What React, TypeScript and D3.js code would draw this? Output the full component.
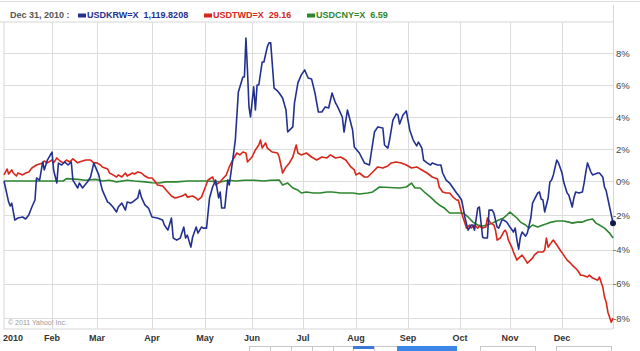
import * as d3 from "d3";
import React from "react";

// [day of year 2010, % change]
const krw: [number, number][] = [
  [0, 0], [3, -1.23], [4, -1.46], [5, -1.29], [7, -2.28], [9, -2.16], [12, -2.1], [14, -2.22], [16, -1.99], [18, -1.52],
  [20, -1.11], [21, 0.19], [23, 0.06], [25, 1.19], [26, 0.69], [28, 1.31], [31, 1.81], [32, 0.69], [34, -0.12], [35, 1.12],
  [37, 1.0], [39, 1.19], [41, 1.0], [43, 1.19], [44, 0.06], [47, -0.41], [48, -0.12], [50, -0.41], [53, -0.06], [55, 0.25],
  [57, 1.12], [58, 0.88], [60, 0.38], [61, -0.12], [62, -0.53], [65, -1.23], [66, -1.29], [68, -1.52], [70, -1.81], [71, -1.52],
  [73, -1.29], [75, -1.7], [76, -1.23], [78, -1.29], [79, -1.23], [82, -0.99], [83, -0.53], [84, -0.94], [86, -1.4], [88, -1.58],
  [90, -2.1], [93, -2.16], [96, -2.28], [97, -2.57], [99, -2.87], [101, -2.16], [102, -3.33], [104, -3.45], [106, -3.33], [108, -2.69],
  [109, -3.33], [110, -3.16], [112, -3.86], [113, -3.27], [115, -2.69], [116, -3.04], [118, -2.69], [119, -2.75], [121, -2.75], [123, -0.99],
  [125, -0.35], [127, 0.06], [129, -0.99], [130, -0.64], [131, -1.58], [133, -1.58], [135, 0.06], [136, -0.23], [138, 1.12], [140, 2.56],
  [142, 5.56], [145, 6.5], [146, 6.5], [147, 8.94], [148, 6.94], [149, 4.63], [150, 4.0], [152, 5.88], [153, 4.44], [154, 6.0],
  [155, 6.0], [157, 7.44], [158, 7.44], [160, 8.38], [161, 8.63], [162, 8.63], [164, 5.81], [166, 5.63], [167, 5.5], [169, 5.19],
  [171, 4.44], [172, 3.06], [175, 3.38], [176, 4.88], [178, 6.13], [180, 6.63], [182, 6.94], [184, 6.44], [186, 6.38], [188, 5.5],
  [190, 4.31], [192, 4.31], [194, 4.63], [196, 4.56], [198, 5.5], [200, 4.88], [201, 4.69], [204, 4.0], [205, 3.06], [207, 4.44],
  [210, 3.19], [211, 2.13], [214, 1.75], [217, 1.13], [220, 1.0], [222, 2.38], [223, 3.06], [225, 3.38], [228, 3.31], [229, 2.25],
  [231, 2.06], [232, 2.56], [234, 3.81], [236, 4.19], [237, 4.13], [238, 3.56], [240, 4.13], [241, 4.25], [242, 4.38], [244, 3.19],
  [246, 2.56], [248, 2.19], [249, 2.44], [251, 2.06], [252, 1.31], [254, 1.13], [256, 1.0], [257, 1.13], [260, 1.0], [262, 1.0],
  [263, 0.5], [265, 0.06], [267, -0.12], [269, -0.41], [271, -0.7], [272, -0.82], [274, -1.11], [275, -1.58], [276, -2.1], [278, -2.87],
  [280, -2.57], [281, -2.57], [282, -2.87], [284, -1.58], [285, -1.52], [287, -3.27], [288, -3.33], [290, -3.33], [291, -1.7], [293, -1.7],
  [294, -1.87], [296, -2.69], [297, -2.75], [299, -2.28], [300, -2.28], [302, -2.4], [304, -2.69], [306, -2.98], [307, -2.75], [308, -3.45],
  [309, -3.98], [310, -3.27], [311, -2.98], [313, -3.22], [314, -3.04], [316, -2.16], [317, -1.29], [320, -0.7], [321, -0.64], [322, -1.05],
  [323, -1.11], [324, -1.81], [326, -0.99], [327, -0.06], [328, 0.06], [329, 0.38], [331, 1.31], [332, 1.13], [334, 0.5], [335, -0.06],
  [337, -0.7], [338, -0.82], [340, -1.52], [341, -0.99], [342, -0.64], [344, -0.7], [346, -0.64], [347, -0.12], [348, 0.56], [349, 1.13],
  [351, 0.56], [352, 0.38], [355, 0.5], [356, 0.5], [358, 0.25], [359, -0.35], [360, -0.58], [362, -1.52], [364, -2.46],
];

const twd: [number, number][] = [
  [0, 0.38], [2, 0.75], [3, 0.44], [5, 0.69], [6, 0.5], [8, 0.31], [9, 0.5], [12, 0.38], [14, 0.5], [16, 0.56],
  [18, 0.81], [21, 1.0], [25, 1.13], [26, 1.25], [28, 1.13], [31, 1.31], [32, 1.13], [34, 1.44], [36, 1.25], [38, 1.13],
  [40, 1.31], [42, 1.19], [44, 1.38], [47, 1.13], [48, 1.19], [52, 1.31], [55, 1.31], [57, 1.13], [59, 1.13], [61, 1.0],
  [62, 0.88], [65, 0.75], [66, 0.5], [68, 0.38], [70, 0.25], [71, 0.38], [73, 0.25], [75, 0.5], [76, 0.31], [79, 0.5],
  [80, 0.44], [82, 0.56], [84, 0.5], [86, 0.31], [88, 0.19], [90, 0.19], [92, -0.06], [93, -0.23], [96, -0.29], [97, -0.41],
  [99, -0.64], [101, -0.88], [103, -0.99], [105, -0.94], [107, -0.88], [109, -0.76], [110, -0.94], [113, -0.88], [115, -0.99], [116, -1.11],
  [118, -0.94], [120, -0.41], [122, 0.06], [125, 0.25], [127, -0.23], [129, -0.12], [131, 0.06], [134, 0.38], [136, 0.88], [139, 1.44],
  [141, 1.75], [143, 1.63], [145, 1.81], [147, 1.75], [148, 1.19], [151, 1.5], [153, 1.94], [155, 2.25], [156, 2.56], [157, 2.06],
  [159, 2.38], [160, 2.06], [163, 1.81], [166, 1.75], [167, 1.5], [169, 0.5], [171, 0.88], [173, 1.13], [175, 1.5], [177, 2.25],
  [178, 1.75], [180, 1.63], [183, 1.75], [186, 1.5], [189, 1.31], [192, 1.5], [195, 1.44], [197, 1.63], [200, 1.44], [203, 1.5],
  [206, 1.31], [209, 0.88], [211, 0.69], [212, 0.38], [214, 0.5], [217, 0.25], [219, 0.25], [222, 0.56], [225, 0.88], [228, 0.81],
  [231, 0.94], [233, 1.13], [236, 1.19], [239, 1.13], [242, 1.0], [245, 0.81], [248, 0.88], [251, 0.69], [254, 0.5], [257, 0.25],
  [260, 0.13], [261, -0.35], [263, -0.64], [265, -0.7], [267, -0.7], [269, -0.94], [271, -1.11], [272, -1.11], [274, -1.87], [275, -2.16],
  [277, -2.75], [279, -2.57], [280, -2.75], [282, -2.57], [284, -2.75], [285, -2.63], [287, -2.75], [289, -2.69], [290, -2.16], [292, -2.46],
  [294, -2.57], [295, -2.87], [296, -3.45], [298, -3.33], [300, -2.98], [301, -2.87], [302, -3.04], [303, -3.45], [305, -3.86], [306, -4.15],
  [308, -4.62], [309, -4.5], [311, -4.33], [313, -4.62], [314, -4.8], [317, -4.5], [318, -4.33], [320, -4.15], [323, -4.15], [324, -4.04],
  [325, -3.33], [326, -3.86], [328, -3.57], [329, -3.45], [331, -3.74], [333, -4.04], [335, -4.33], [337, -4.62], [339, -4.8], [340, -4.91],
  [343, -5.2], [345, -5.5], [346, -5.5], [349, -5.61], [350, -5.5], [352, -5.67], [355, -5.79], [356, -5.61], [358, -6.2], [359, -6.78],
  [360, -7.08], [361, -7.66], [363, -8.25], [364, -8.01],
];

const cny: [number, number][] = [
  [0, 0], [30, 0], [38, 0], [40, 0.15], [44, 0.12], [47, 0.1], [52, 0.05], [58, 0.1], [62, 0], [66, 0.05],
  [70, -0.05], [76, 0.05], [80, 0], [86, -0.05], [90, -0.1], [94, -0.12], [98, -0.05], [104, -0.05], [110, 0], [116, 0],
  [122, 0], [130, -0.05], [136, 0.05], [140, 0], [146, 0.05], [152, 0.05], [158, 0], [162, 0.05], [167, 0.06], [169, -0.23],
  [172, -0.12], [175, -0.41], [178, -0.53], [180, -0.7], [183, -0.64], [187, -0.7], [191, -0.7], [195, -0.64], [198, -0.64], [203, -0.7],
  [207, -0.7], [210, -0.7], [214, -0.76], [219, -0.7], [222, -0.64], [226, -0.35], [238, -0.41], [242, -0.35], [245, -0.12], [247, -0.41],
  [250, -0.41], [253, -0.7], [256, -0.94], [259, -1.23], [261, -1.4], [264, -1.58], [267, -1.87], [271, -1.87], [275, -1.87], [278, -2.1],
  [281, -2.4], [284, -2.57], [287, -2.63], [290, -2.57], [293, -2.46], [297, -2.28], [300, -2.16], [302, -1.99], [304, -1.81], [306, -1.99],
  [308, -2.16], [310, -2.4], [313, -2.57], [315, -2.75], [317, -2.57], [320, -2.69], [323, -2.57], [326, -2.46], [328, -2.4], [331, -2.34],
  [335, -2.34], [338, -2.4], [340, -2.46], [343, -2.4], [346, -2.4], [349, -2.28], [352, -2.22], [354, -2.46], [356, -2.57], [359, -2.75],
  [362, -3.04], [364, -3.33],
];

const monthNames = ["2010", "Feb", "Mar", "Apr", "May", "Jun", "Jul", "Aug", "Sep", "Oct", "Nov", "Dec"];
const yTicks = [8, 6, 4, 2, 0, -2, -4, -6, -8];
const legend = [
  { name: "USDKRW=X", last: "1,119.8208", color: "#22318f" },
  { name: "USDTWD=X", last: "29.16", color: "#d8261a" },
  { name: "USDCNY=X", last: "6.59", color: "#2d862f" },
];

const W = 640, H = 351;
const left = 4, right = 613, top = 22, bottom = 329;
const start = new Date(2010, 0, 1);
const monthStarts = d3.range(12).map(m => new Date(2010, m, 1));
const yearEnd = new Date(2010, 11, 31);

// yahoo spaces trading days, so months are not quite even
const x = d3.scaleTime()
  .domain([...monthStarts, yearEnd])
  .range([4, 52, 97, 152, 205, 252, 303, 356, 408, 460, 510, 562, 613]);
const y = d3.scaleLinear().domain([-8, 0, 8]).range([318, 181, 53]);

const toDate = (d: number) => d3.timeDay.offset(start, d);
const line = d3.line<[number, number]>().x(d => x(toDate(d[0]))).y(d => y(d[1]));

export default function App() {
  const font = "'Liberation Sans', Arial, sans-serif";
  const last = krw[krw.length - 1];
  let lx = 10;
  return (
    <svg width={W} height={H} style={{ position: "absolute", left: 0, top: 0, background: "#fff" }} fontFamily={font}>
      <line x1={0} x2={W} y1={1.5} y2={1.5} stroke="#dedede" />
      <line x1={0} x2={right} y1={top} y2={top} stroke="#d6d6d6" />
      <line x1={right + 0.5} x2={right + 0.5} y1={5} y2={bottom} stroke="#d6d6d6" />
      <line x1={left} x2={left} y1={top} y2={bottom} stroke="#d6d6d6" />
      <line x1={left} x2={right} y1={bottom} y2={bottom} stroke="#d6d6d6" />

      {/* grid */}
      {monthStarts.slice(1).map((m, i) => (
        <line key={i} x1={Math.round(x(m)) + 0.5} x2={Math.round(x(m)) + 0.5} y1={top} y2={bottom} stroke="#dcdcdc" />
      ))}
      {yTicks.map(t => (
        <g key={t}>
          <line x1={left} x2={right} y1={Math.round(y(t)) + 0.5} y2={Math.round(y(t)) + 0.5} stroke="#dcdcdc" />
          <text x={t < 0 ? 613 : 616} y={y(t) + 3.5} fontSize={9.5} fill="#444">{`${t}%`}</text>
        </g>
      ))}

      {/* header */}
      <text x={10} y={18} fontSize={9} fontWeight="bold" fill="#555">Dec 31, 2010 :</text>
      {legend.map((l, i) => {
        const pos = [78, 204, 307][i];
        return (
          <g key={l.name} transform={`translate(${pos},0)`}>
            <rect x={0} y={13.5} width={8} height={4} fill={l.color} />
            <text x={9} y={18} fontSize={9} fontWeight="bold" fill={l.color} xmlSpace="preserve">{`${l.name}  ${l.last}`}</text>
          </g>
        );
      })}

      {/* series */}
      <path d={line(cny)!} fill="none" stroke="#2d862f" strokeWidth={1.6} strokeLinejoin="round" />
      <path d={line(twd)!} fill="none" stroke="#d8261a" strokeWidth={1.6} strokeLinejoin="round" />
      <path d={line(krw)!} fill="none" stroke="#22318f" strokeWidth={1.6} strokeLinejoin="round" />
      <circle cx={x(toDate(last[0]))} cy={y(last[1])} r={3} fill="#111a4a" />

      <text x={8} y={325} fontSize={7} fill="#999">© 2011 Yahoo! Inc.</text>

      {/* month axis */}
      {monthStarts.map((m, i) => (
        <text key={i} x={i === 0 ? 3 : x(m)} y={341} fontSize={9} fontWeight="bold" fill="#333"
          textAnchor={i === 0 ? "start" : "middle"}>{monthNames[i]}</text>
      ))}

      {/* navigator buttons peeking in at bottom */}
      {[[249, 21], [270, 21], [291, 21], [312, 21], [333, 20], [374, 23], [480, 55], [556, 55]].map(([bx, bw], i) => (
        <rect key={i} x={bx + 0.5} y={346.5} width={bw} height={10} fill="#fff" stroke="#c8c8c8" />
      ))}
      <rect x={353} y={346} width={21} height={3} fill="#3c78d8" />
      <rect x={397} y={346} width={60} height={6} fill="#3c86e8" />
    </svg>
  );
}
